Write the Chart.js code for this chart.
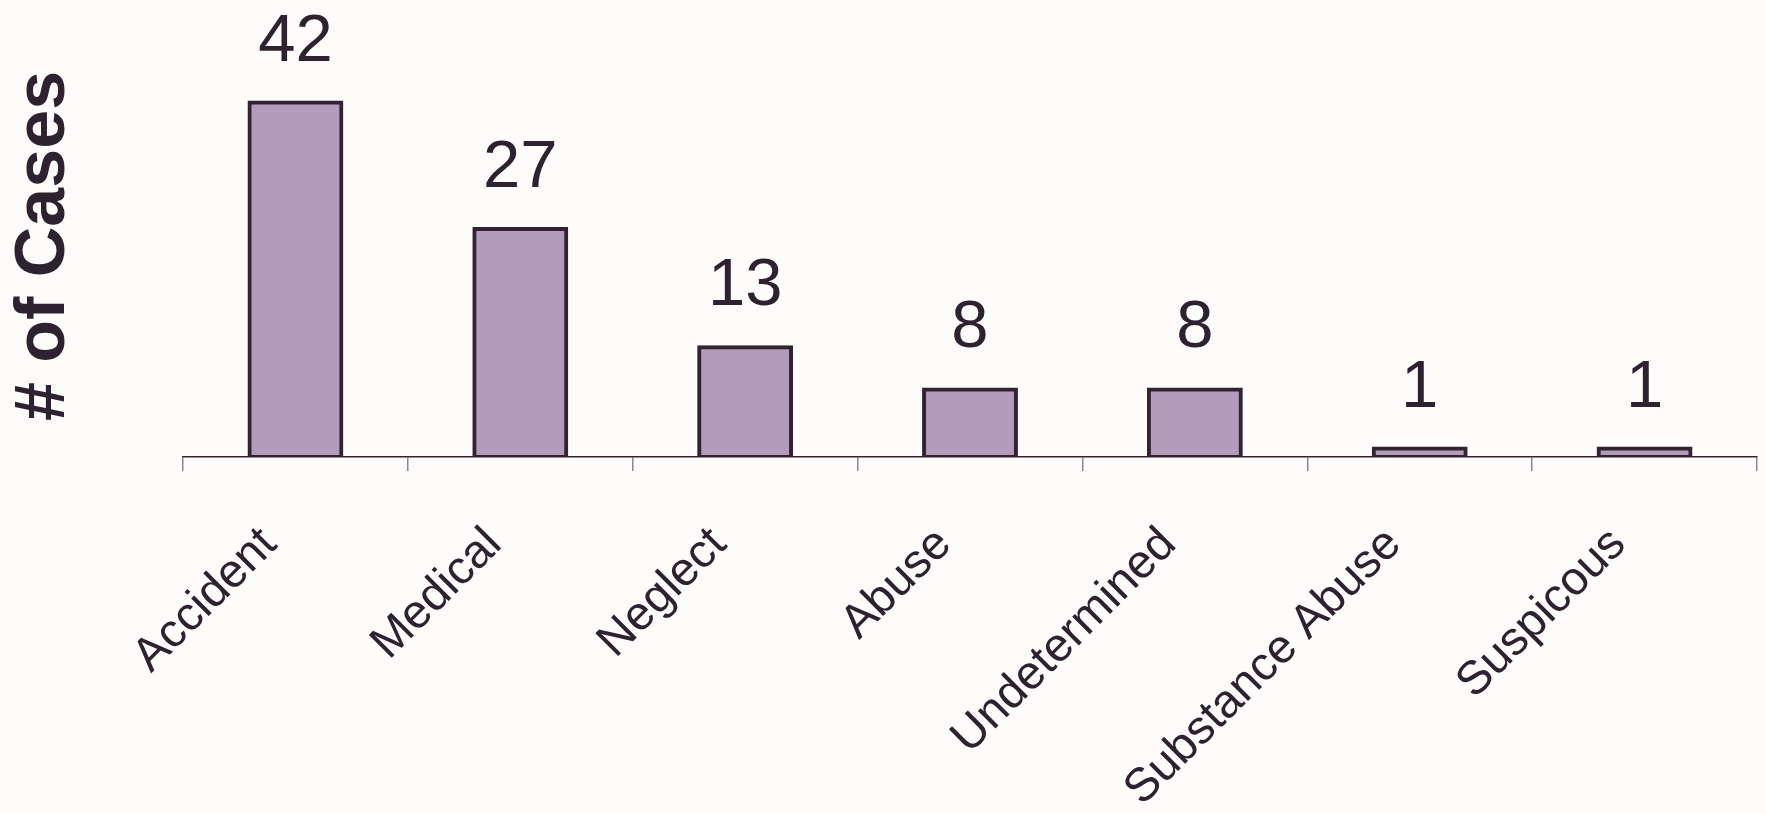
<!DOCTYPE html>
<html>
<head>
<meta charset="utf-8">
<script src="https://cdn.jsdelivr.net/npm/chart.js@4.4.1/dist/chart.umd.min.js"></script>
<style>
  html, body { margin: 0; padding: 0; background: #FDFCFA; }
  #wrap { width: 1766px; height: 814px; position: relative; }
</style>
</head>
<body>
<div id="wrap"><canvas id="c"></canvas></div>
<script>
const categories = ["Accident", "Medical", "Neglect", "Abuse", "Undetermined", "Substance Abuse", "Suspicous"];
const caseCounts = [42, 27, 13, 8, 8, 1, 1];
const yAxisTitle = "# of Cases";

const TEXT = "#2E2130";

const bgPlugin = {
  id: "bg",
  beforeDraw(chart) {
    const ctx = chart.ctx;
    ctx.save();
    ctx.fillStyle = "#FDFCFA";
    ctx.fillRect(0, 0, chart.width, chart.height);
    ctx.restore();
  }
};

const valueLabels = {
  id: "valueLabels",
  afterDatasetsDraw(chart) {
    const ctx = chart.ctx;
    const meta = chart.getDatasetMeta(0);
    ctx.save();
    ctx.fillStyle = TEXT;
    ctx.font = "67px 'Liberation Sans', Arial, sans-serif";
    ctx.textAlign = "center";
    ctx.textBaseline = "alphabetic";
    meta.data.forEach((bar, i) => {
      ctx.fillText(String(chart.data.datasets[0].data[i]), bar.x, bar.y - 42);
    });
    ctx.restore();
  }
};

new Chart(document.getElementById("c"), {
  type: "bar",
  data: {
    labels: categories,
    datasets: [{
      data: caseCounts,
      backgroundColor: "#B39CBB",
      borderColor: "#322331",
      borderWidth: 4,
      borderSkipped: false,
      inflateAmount: 2,
      barPercentage: 0.4087,
      categoryPercentage: 1.0
    }]
  },
  options: {
    responsive: true,
    maintainAspectRatio: false,
    animation: false,
    layout: { padding: { top: 35, right: 9, bottom: 0, left: 0 } },
    plugins: {
      legend: { display: false },
      tooltip: { enabled: false }
    },
    scales: {
      x: {
        grid: {
          offset: true,
          drawOnChartArea: false,
          drawTicks: true,
          tickLength: 14,
          color: "#8E8590",
          lineWidth: 1.5
        },
        border: { display: true, color: "#322331", width: 1.5 },
        ticks: {
          color: TEXT,
          font: { family: "'Liberation Sans', Arial, sans-serif", size: 47 },
          minRotation: 45,
          maxRotation: 45,
          autoSkip: false,
          padding: 46,
          labelOffset: -26
        },
        afterFit(scale) { scale.height = 357; }
      },
      y: {
        min: 0,
        max: 50,
        grid: { display: false },
        border: { display: false },
        ticks: { display: false },
        title: {
          display: true,
          text: yAxisTitle,
          color: TEXT,
          font: { family: "'Liberation Sans', Arial, sans-serif", size: 70, weight: "bold" },
          padding: { top: 3, bottom: 0 }
        },
        afterFit(scale) { scale.width = 183; }
      }
    }
  },
  plugins: [bgPlugin, valueLabels]
});
</script>
</body>
</html>
